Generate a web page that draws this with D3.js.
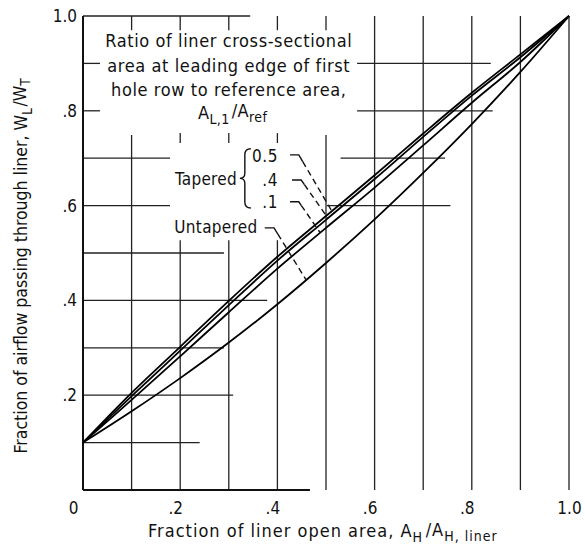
<!DOCTYPE html>
<html>
<head>
<meta charset="utf-8">
<script src="https://cdn.jsdelivr.net/npm/d3@7"></script>
<style>
  html, body { margin: 0; padding: 0; background: #fff; }
  svg { display: block; }
  text { font-family: "DejaVu Sans Condensed", "DejaVu Sans", sans-serif; fill: #111; }
</style>
</head>
<body>
<div id="chart"></div>
<script>
// ---- data ----
const xValues    = [0, 0.1, 0.2, 0.3, 0.4, 0.5, 0.6, 0.7, 0.8, 0.9, 1.0];
const tapered05  = [0.10, 0.205, 0.302, 0.399, 0.492, 0.578, 0.664, 0.752, 0.838, 0.919, 1.0];
const tapered04  = [0.10, 0.198, 0.294, 0.390, 0.484, 0.570, 0.656, 0.745, 0.832, 0.913, 1.0];
const tapered01  = [0.10, 0.190, 0.282, 0.375, 0.467, 0.553, 0.638, 0.727, 0.817, 0.903, 1.0];
const untapered  = [0.10, 0.166, 0.236, 0.311, 0.392, 0.479, 0.571, 0.669, 0.772, 0.882, 1.0];
const seriesNames = ["0.5", ".4", ".1", "Untapered"];
const xTickValues = [0, 0.2, 0.4, 0.6, 0.8, 1.0];
const xTickLabels = ["0", ".2", ".4", ".6", ".8", "1.0"];
const yTickValues = [0.2, 0.4, 0.6, 0.8, 1.0];
const yTickLabels = [".2", ".4", ".6", ".8", "1.0"];

// ---- layout ----
const W = 585, H = 549;
const x = d3.scaleLinear().domain([0, 1]).range([83, 569]);
const y = d3.scaleLinear().domain([0, 1]).range([490, 16]);

const svg = d3.select("#chart").append("svg").attr("width", W).attr("height", H);

// partial grid lines (data-unit spans), as in the original hand-drafted figure
const vGrid = [
  { v: 0.1, spans: [[0.97, 1.0], [0, 0.749]] },
  { v: 0.2, spans: [[0.97, 1.0], [0.732, 0.753], [0, 0.527]] },
  { v: 0.3, spans: [[0.97, 1.0], [0.732, 0.753], [0, 0.527]] },
  { v: 0.4, spans: [[0.97, 1.0], [0.732, 0.753], [0, 0.527]] },
  { v: 0.5, spans: [[0.97, 1.0], [0, 0.749]] },
  { v: 0.6, spans: [[0, 1]] },
  { v: 0.7, spans: [[0, 1]] },
  { v: 0.8, spans: [[0, 1]] },
  { v: 0.9, spans: [[0, 1]] },
  { v: 1.0, spans: [[0, 1]] }
];
const hGrid = [
  { v: 1.0, spans: [[0, 0.344]] },
  { v: 0.9, spans: [[0, 0.035], [0.564, 0.839]] },
  { v: 0.8, spans: [[0, 0.035], [0.564, 0.843]] },
  { v: 0.7, spans: [[0, 0.179], [0.53, 0.745]] },
  { v: 0.6, spans: [[0, 0.179], [0.502, 0.756]] },
  { v: 0.5, spans: [[0, 0.29]] },
  { v: 0.4, spans: [[0, 0.379]] },
  { v: 0.3, spans: [[0, 0.29]] },
  { v: 0.2, spans: [[0, 0.309]] },
  { v: 0.1, spans: [[0, 0.24]] }
];

const grid = svg.append("g").attr("stroke", "#222").attr("stroke-width", 1.3).attr("fill", "none");
vGrid.forEach(g => g.spans.forEach(s => {
  grid.append("line").attr("x1", x(g.v)).attr("x2", x(g.v)).attr("y1", y(s[0])).attr("y2", y(s[1]));
}));
hGrid.forEach(g => g.spans.forEach(s => {
  grid.append("line").attr("y1", y(g.v)).attr("y2", y(g.v)).attr("x1", x(s[0])).attr("x2", x(s[1]));
}));

// spines
svg.append("line").attr("x1", x(0)).attr("x2", x(0)).attr("y1", y(0)).attr("y2", y(1))
  .attr("stroke", "#111").attr("stroke-width", 2);
svg.append("line").attr("x1", x(0)).attr("x2", x(0.467)).attr("y1", y(0)).attr("y2", y(0))
  .attr("stroke", "#111").attr("stroke-width", 2);

// axes (labels only)
const yAxis = d3.axisLeft(y).tickValues(yTickValues)
  .tickFormat((d, i) => yTickLabels[i]).tickSize(0).tickPadding(6);
svg.append("g").attr("transform", `translate(${x(0)},0)`).call(yAxis)
  .call(g => g.select(".domain").remove())
  .selectAll("text").style("font-size", "17px").attr("font-family", null);

const xAxis = d3.axisBottom(x).tickValues(xTickValues)
  .tickFormat((d, i) => xTickLabels[i]).tickSize(0).tickPadding(12);
svg.append("g").attr("transform", `translate(0,${y(0)})`).call(xAxis)
  .call(g => g.select(".domain").remove())
  .selectAll("text").style("font-size", "17px").attr("font-family", null)
  .attr("dx", (d, i) => i === 0 ? -10 : (xTickLabels[i].startsWith(".") ? -5 : 0));

// rich text helper
function rich(sel, parts, size) {
  parts.forEach(p => {
    if (typeof p === "string") {
      sel.append("tspan").text(p);
    } else {
      sel.append("tspan").attr("dy", "0.35em").style("font-size", (size * 0.78) + "px").text(p.sub);
      sel.append("tspan").attr("dy", "-0.35em").style("font-size", size + "px").text("\u200A");
    }
  });
}

// axis titles
const xt = svg.append("text").attr("x", x(0.134)).attr("y", 537)
  .style("font-size", "18px").style("letter-spacing", "1px");
rich(xt, ["Fraction of liner open area,  A", { sub: "H" }, "/A", { sub: "H, liner" }], 18);

const yt = svg.append("text").attr("transform", `translate(27,265) rotate(-90)`)
  .attr("text-anchor", "middle").style("font-size", "17.5px");
rich(yt, ["Fraction of airflow passing through liner,  W", { sub: "L" }, "/W", { sub: "T" }], 17.5);

// annotation block
const noteLines = ["Ratio of liner cross-sectional", "area at leading edge of first", "hole row to reference area,"];
const noteY = [0.935, 0.882, 0.831];
noteLines.forEach((t, i) => {
  svg.append("text").attr("x", x(0.3)).attr("y", y(noteY[i])).attr("text-anchor", "middle")
    .style("font-size", "18px").style("letter-spacing", "0.6px").text(t);
});
const n4 = svg.append("text").attr("x", x(0.31)).attr("y", y(0.783)).attr("text-anchor", "middle")
  .style("font-size", "18px").style("letter-spacing", "0.4px");
rich(n4, ["A", { sub: "L,1" }, "/A", { sub: "ref" }], 18);

// series
const series = [tapered05, tapered04, tapered01, untapered];
const line = d3.line().x((d, i) => x(xValues[i])).y(d => y(d)).curve(d3.curveCatmullRom);
svg.append("g").selectAll("path").data(series).join("path")
  .attr("d", line).attr("fill", "none").attr("stroke", "#000").attr("stroke-width", 1.8);

// labels for series
svg.append("text").attr("x", x(0.317)).attr("y", y(0.643)).attr("text-anchor", "end")
  .style("font-size", "17px").style("letter-spacing", "0.3px").text("Tapered");
const labelY = [0.692, 0.641, 0.595];
[0, 1, 2].forEach(i => {
  svg.append("text").attr("x", x(0.401)).attr("y", y(labelY[i])).attr("text-anchor", "end")
    .style("font-size", "17px").style("letter-spacing", "0.5px").text(seriesNames[i]);
});
svg.append("text").attr("x", x(0.359)).attr("y", y(0.543)).attr("text-anchor", "end")
  .style("font-size", "17px").style("letter-spacing", "0.3px").text(seriesNames[3]);

// brace
{
  const bx = x(0.333), top = y(0.72), bot = y(0.595), mid = (top + bot) / 2;
  svg.append("path").attr("fill", "none").attr("stroke", "#111").attr("stroke-width", 1.4)
    .attr("d", `M${bx + 6},${top} Q${bx},${top} ${bx},${top + 6} L${bx},${mid - 5} Q${bx},${mid} ${bx - 5},${mid} Q${bx},${mid} ${bx},${mid + 5} L${bx},${bot - 6} Q${bx},${bot} ${bx + 6},${bot}`);
}

// leaders
function interp(arr, xv) {
  return d3.scaleLinear().domain(xValues).range(arr)(xv);
}
const leaders = [
  { s: tapered05, x0: 0.426, x1: 0.444, yl: 0.707, xe: 0.512 },
  { s: tapered04, x0: 0.430, x1: 0.449, yl: 0.654, xe: 0.504 },
  { s: tapered01, x0: 0.426, x1: 0.444, yl: 0.608, xe: 0.488 },
  { s: untapered, x0: 0.374, x1: 0.393, yl: 0.553, xe: 0.459 }
];
leaders.forEach(L => {
  const ax = x(L.x1), ay = y(L.yl);
  const ex = x(L.xe), ey = y(interp(L.s, L.xe));
  const bxp = ax + (ex - ax) * 0.12, byp = ay + (ey - ay) * 0.12;
  svg.append("path").attr("fill", "none").attr("stroke", "#111").attr("stroke-width", 1.4)
    .attr("d", `M${x(L.x0)},${ay} L${ax},${ay} L${bxp},${byp}`);
  svg.append("line").attr("x1", bxp).attr("y1", byp).attr("x2", ex).attr("y2", ey)
    .attr("stroke", "#111").attr("stroke-width", 1.4).attr("stroke-dasharray", "6,4");
});
</script>
</body>
</html>
